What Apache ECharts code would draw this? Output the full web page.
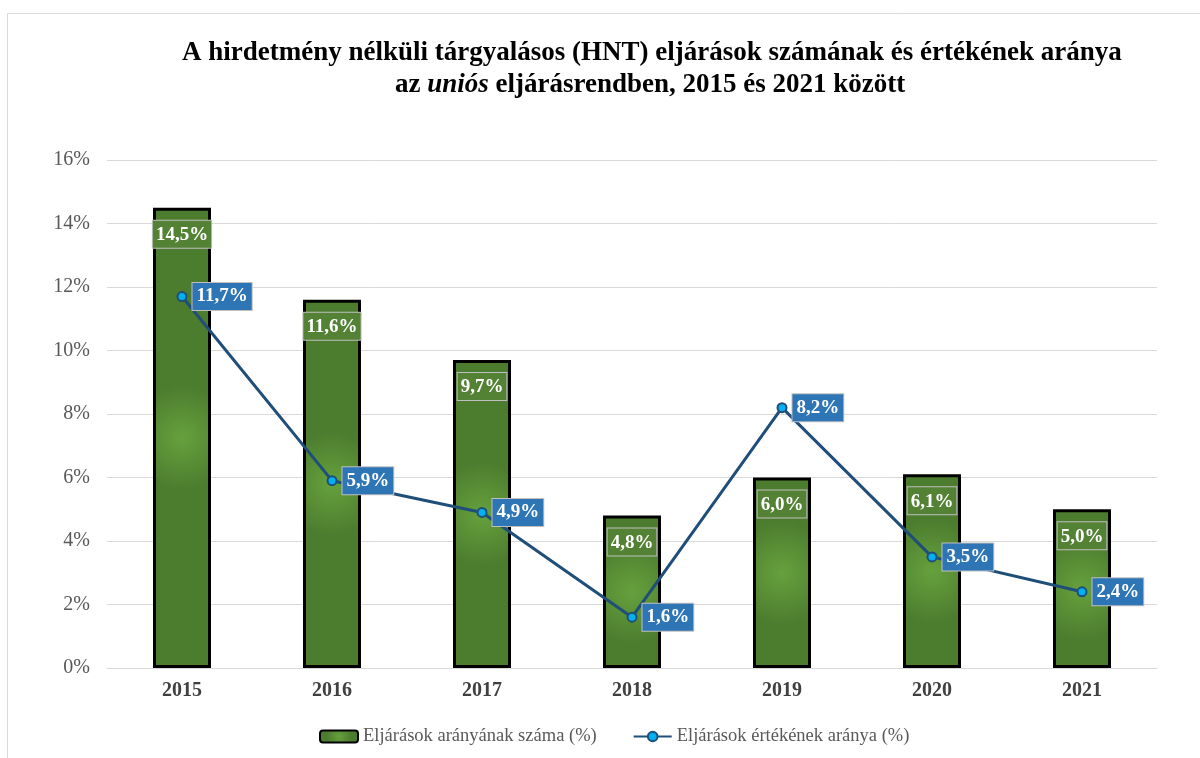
<!DOCTYPE html>
<html>
<head>
<meta charset="utf-8">
<script src="https://cdn.jsdelivr.net/npm/echarts@6/dist/echarts.min.js"></script>
<style>
html, body { margin: 0; padding: 0; background: #fff; }
#chart { width: 1200px; height: 758px; }
</style>
</head>
<body>
<div id="chart"></div>
<script>
const years = ['2015', '2016', '2017', '2018', '2019', '2020', '2021'];
const countShare = [14.5, 11.6, 9.7, 4.8, 6.0, 6.1, 5.0];
const valueShare = [11.7, 5.9, 4.9, 1.6, 8.2, 3.5, 2.4];
const barName = 'Eljárások arányának száma (%)';
const lineName = 'Eljárások értékének aránya (%)';

const serif = '"Liberation Serif", "Times New Roman", serif';
const pct = v => v.toFixed(1).replace('.', ',') + '%';

let myChart = echarts.init(document.getElementById('chart'));
myChart.setOption({
    backgroundColor: '#fff',
    textStyle: { fontFamily: serif },
    title: [
        {
            text: 'A hirdetmény nélküli tárgyalásos (HNT) eljárások számának és értékének aránya',
            left: 177,
            top: 35,
            textStyle: { fontFamily: serif, fontSize: 27, fontWeight: 'bold', color: '#000' }
        },
        {
            text: '{b|az }{i|uniós}{b| eljárásrendben, 2015 és 2021 között}',
            left: 390,
            top: 67,
            textStyle: {
                rich: {
                    b: { fontFamily: serif, fontSize: 27, fontWeight: 'bold', color: '#000' },
                    i: { fontFamily: serif, fontSize: 27, fontWeight: 'bold', fontStyle: 'italic', color: '#000' }
                }
            }
        }
    ],
    // keret
    graphic: [{
        type: 'rect',
        shape: { x: 7.5, y: 13.5, width: 1300, height: 900 },
        style: { fill: 'none', stroke: '#d9d9d9', lineWidth: 1 },
        silent: true
    }],
    grid: { left: 107, right: 43, top: 160, bottom: 90 },
    legend: {
        bottom: 7,
        left: 314,
        itemGap: 36,
        itemWidth: 38,
        itemHeight: 12,
        textStyle: { fontFamily: serif, fontSize: 18.5, color: '#595959' },
        data: [barName, lineName]
    },
    xAxis: {
        type: 'category',
        data: years,
        axisLine: { lineStyle: { color: '#d9d9d9', width: 1 } },
        axisTick: { show: false },
        axisLabel: { fontFamily: serif, fontSize: 20, fontWeight: 'bold', color: '#404040', margin: 13 }
    },
    yAxis: {
        type: 'value',
        min: 0,
        max: 16,
        interval: 2,
        axisLine: { show: false },
        axisTick: { show: false },
        splitLine: { lineStyle: { color: '#d9d9d9', width: 1 } },
        axisLabel: { fontFamily: serif, fontSize: 20, color: '#595959', margin: 17, formatter: '{value}%' }
    },
    series: [
        {
            name: barName,
            type: 'bar',
            barWidth: 58,
            data: countShare,
            itemStyle: {
                color: new echarts.graphic.RadialGradient(0.5, 0.5, 0.9, [
                    { offset: 0, color: '#66a13d' },
                    { offset: 1, color: '#4c7c2e' }
                ]),
                borderColor: '#000',
                borderWidth: 3
            },
            label: {
                show: true,
                position: 'insideTop',
                distance: 13,
                formatter: p => pct(p.value),
                fontFamily: serif,
                fontSize: 19,
                fontWeight: 'bold',
                color: '#fff',
                backgroundColor: '#548235',
                borderColor: '#bfbfbf',
                borderWidth: 1,
                padding: [5, 3, 3, 3]
            },
            z: 2
        },
        {
            name: lineName,
            type: 'line',
            data: valueShare,
            symbol: 'circle',
            symbolSize: 9,
            lineStyle: { color: '#1f4e79', width: 3 },
            itemStyle: { color: '#00b0f0', borderColor: '#1f4e79', borderWidth: 2 },
            label: {
                show: true,
                position: 'right',
                distance: 5,
                formatter: p => pct(p.value),
                fontFamily: serif,
                fontSize: 19,
                fontWeight: 'bold',
                color: '#fff',
                backgroundColor: '#2e75b6',
                borderColor: '#bfbfbf',
                borderWidth: 1,
                padding: [5, 4, 3, 4]
            },
            z: 5
        }
    ]
});
window.addEventListener('resize', function () {
    myChart.resize();
});
</script>
</body>
</html>
